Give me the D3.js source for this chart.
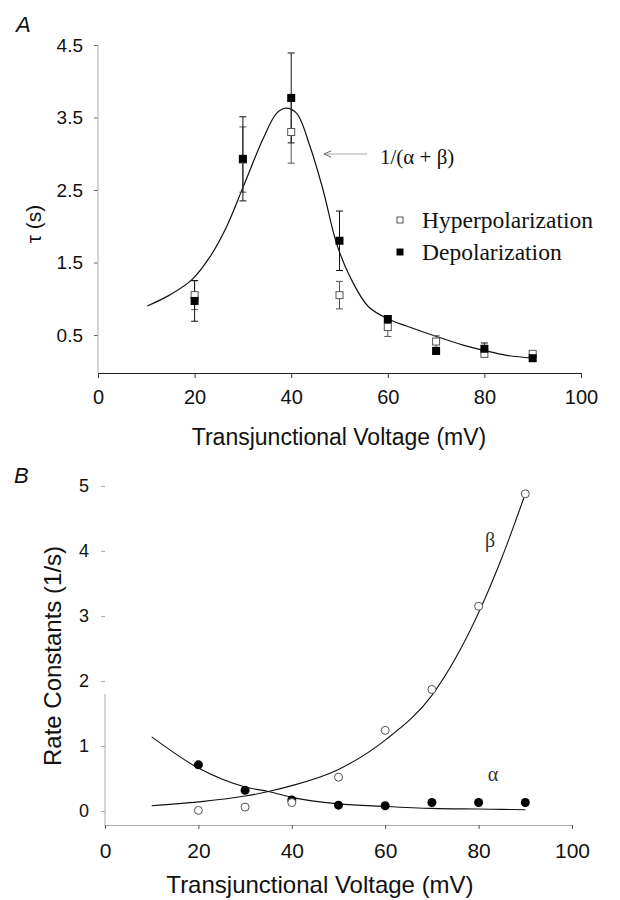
<!DOCTYPE html>
<html>
<head>
<meta charset="utf-8">
<script src="https://cdn.jsdelivr.net/npm/d3@7"></script>
<style>
  body { margin: 0; background: #fff; }
  svg { display: block; }
  .sans { font-family: "Liberation Sans", Arial, sans-serif; }
  .serif { font-family: "Liberation Serif", "Times New Roman", serif; }
</style>
</head>
<body>
<svg id="chart" width="620" height="900"></svg>
<script>
// ---------- data ----------
const voltages = [20, 30, 40, 50, 60, 70, 80, 90];
const hyperTau = [1.05, 2.92, 3.30, 1.05, 0.61, 0.41, 0.24, 0.24];
const hyperErr = [0.20, 0.45, 0.43, 0.19, 0.13, 0.08, 0.04, 0.03];
const depolTau = [0.97, 2.93, 3.77, 1.80, 0.72, 0.28, 0.31, 0.18];
const depolErr = [0.28, 0.58, 0.62, 0.41, 0.04, 0.03, 0.08, 0.03];

const tauFitV = [10.2, 14.8, 19.4, 23.2, 26.6, 30.1, 34.2, 37.0, 38.9, 41.1, 43.9, 46.6, 49.4, 52.2, 56.0, 60.5, 65.3, 70.1, 75.6, 79.8, 84.6, 90.1];
const tauFit  = [0.90, 1.05, 1.26, 1.58, 1.99, 2.55, 3.21, 3.56, 3.63, 3.56, 3.10, 2.50, 1.76, 1.30, 0.89, 0.71, 0.59, 0.48, 0.36, 0.29, 0.22, 0.18];

const alphaPts = [0.71, 0.32, 0.17, 0.09, 0.08, 0.13, 0.13, 0.13];
const betaPts  = [0.01, 0.06, 0.13, 0.52, 1.24, 1.87, 3.15, 4.88];

const fitV     = [10, 20, 30, 35, 40, 50, 60, 70, 80, 85, 90];
const alphaFit = [1.14, 0.66, 0.37, 0.30, 0.21, 0.11, 0.07, 0.04, 0.03, 0.025, 0.02];
const betaFit  = [0.08, 0.14, 0.23, 0.30, 0.39, 0.64, 1.09, 1.78, 3.05, 3.90, 4.88];

const xTicks = [0, 20, 40, 60, 80, 100];
const tauTicks = [0.5, 1.5, 2.5, 3.5, 4.5];
const rateTicks = [0, 1, 2, 3, 4, 5];

// ---------- setup ----------
const svg = d3.select("#chart");

// ===== Panel A =====
const xA = d3.scaleLinear().domain([0, 100]).range([98, 581]);
const yA = d3.scaleLinear().domain([0, 4.5]).range([371.25, 45]);
const gA = svg.append("g");

// y axis
const axLA = gA.append("g").attr("transform", "translate(98,0)")
  .call(d3.axisLeft(yA).tickValues(tauTicks).tickFormat(d3.format(".1f")).tickSize(4).tickPadding(11).tickSizeOuter(0));
axLA.select(".domain").remove();
axLA.selectAll(".tick line").attr("stroke", "#666");
axLA.selectAll(".tick text").attr("class", "sans").attr("font-size", 19).attr("fill", "#111");
gA.append("line").attr("x1", 98).attr("x2", 98).attr("y1", yA(4.5)).attr("y2", 373)
  .attr("stroke", "#aaa").attr("stroke-width", 1);

// x axis
const axBA = gA.append("g").attr("transform", "translate(0,373)")
  .call(d3.axisBottom(xA).tickValues(xTicks).tickSize(5).tickPadding(12).tickSizeOuter(0));
axBA.select(".domain").attr("stroke", "#222");
axBA.selectAll(".tick line").attr("stroke", "#333");
axBA.selectAll(".tick text").attr("class", "sans").attr("font-size", 20).attr("fill", "#111");

gA.append("text").attr("class", "sans").attr("x", 339).attr("y", 445)
  .attr("text-anchor", "middle").attr("font-size", 23).attr("fill", "#111")
  .text("Transjunctional Voltage (mV)");
gA.append("text").attr("class", "sans")
  .attr("transform", "translate(41,224) rotate(-90)")
  .attr("text-anchor", "middle").attr("font-size", 21).attr("fill", "#111")
  .text("τ (s)");
gA.append("text").attr("class", "sans").attr("x", 16).attr("y", 32)
  .attr("font-size", 22).attr("font-style", "italic").attr("fill", "#111").text("A");

// fit curve
gA.append("path")
  .datum(tauFitV.map((v, i) => [v, tauFit[i]]))
  .attr("fill", "none").attr("stroke", "#111").attr("stroke-width", 1.2)
  .attr("d", d3.line().x(d => xA(d[0])).y(d => yA(d[1])).curve(d3.curveCatmullRom.alpha(0.5)));

// error bars
function errBars(vals, errs, color) {
  const g = gA.append("g").attr("stroke", color).attr("stroke-width", 1);
  voltages.forEach((v, i) => {
    const x = xA(v), y1 = yA(vals[i] + errs[i]), y2 = yA(vals[i] - errs[i]);
    g.append("line").attr("x1", x).attr("x2", x).attr("y1", y1).attr("y2", y2);
    g.append("line").attr("x1", x - 3.5).attr("x2", x + 3.5).attr("y1", y1).attr("y2", y1);
    g.append("line").attr("x1", x - 3.5).attr("x2", x + 3.5).attr("y1", y2).attr("y2", y2);
  });
}
errBars(hyperTau, hyperErr, "#555");
errBars(depolTau, depolErr, "#111");

gA.append("g").selectAll("rect").data(voltages).join("rect")
  .attr("x", d => xA(d) - 3.5).attr("y", (d, i) => yA(hyperTau[i]) - 3.5)
  .attr("width", 7).attr("height", 7)
  .attr("fill", "#fff").attr("stroke", "#555").attr("stroke-width", 1);
gA.append("g").selectAll("rect").data(voltages).join("rect")
  .attr("x", d => xA(d) - 4).attr("y", (d, i) => yA(depolTau[i]) - 4)
  .attr("width", 8).attr("height", 8).attr("fill", "#000");

// legend
gA.append("rect").attr("x", 397).attr("y", 217).attr("width", 6).attr("height", 6)
  .attr("fill", "#fff").attr("stroke", "#555");
gA.append("rect").attr("x", 396.5).attr("y", 248.5).attr("width", 7).attr("height", 7).attr("fill", "#000");
gA.append("text").attr("class", "serif").attr("x", 422).attr("y", 228)
  .attr("font-size", 23.5).attr("fill", "#111").text("Hyperpolarization");
gA.append("text").attr("class", "serif").attr("x", 422).attr("y", 260)
  .attr("font-size", 23.5).attr("fill", "#111").text("Depolarization");

// annotation arrow
gA.append("line").attr("x1", 367).attr("x2", 325).attr("y1", 154).attr("y2", 154)
  .attr("stroke", "#aaa").attr("stroke-width", 1.2);
gA.append("path").attr("d", "M331,151 L324,154 L331,157")
  .attr("fill", "none").attr("stroke", "#666").attr("stroke-width", 1);
gA.append("text").attr("class", "serif").attr("x", 380).attr("y", 164)
  .attr("font-size", 21).attr("fill", "#111").text("1/(α + β)");

// ===== Panel B =====
const xB = d3.scaleLinear().domain([0, 100]).range([105, 572]);
const yB = d3.scaleLinear().domain([0, 5]).range([811, 486]);
const gB = svg.append("g");

const axLB = gB.append("g").attr("transform", "translate(105,0)")
  .call(d3.axisLeft(yB).tickValues(rateTicks).tickFormat(d3.format("d")).tickSize(4).tickPadding(12).tickSizeOuter(0));
axLB.select(".domain").remove();
axLB.selectAll(".tick line").attr("stroke", "#aaa");
axLB.selectAll(".tick text").attr("class", "sans").attr("font-size", 18).attr("fill", "#111");
gB.append("line").attr("x1", 105).attr("x2", 105).attr("y1", yB(1.8)).attr("y2", 825)
  .attr("stroke", "#aaa").attr("stroke-width", 1);

const axBB = gB.append("g").attr("transform", "translate(0,825)")
  .call(d3.axisBottom(xB).tickValues(xTicks).tickSize(4).tickPadding(14).tickSizeOuter(0));
axBB.select(".domain").attr("stroke", "#aaa");
axBB.selectAll(".tick line").attr("stroke", "#555");
axBB.selectAll(".tick text").attr("class", "sans").attr("font-size", 21).attr("fill", "#111");

gB.append("text").attr("class", "sans").attr("x", 320).attr("y", 893)
  .attr("text-anchor", "middle").attr("font-size", 24).attr("fill", "#111")
  .text("Transjunctional Voltage (mV)");
gB.append("text").attr("class", "sans")
  .attr("transform", "translate(61,656) rotate(-90)")
  .attr("text-anchor", "middle").attr("font-size", 24).attr("fill", "#111")
  .text("Rate Constants (1/s)");
gB.append("text").attr("class", "sans").attr("x", 14).attr("y", 483)
  .attr("font-size", 22).attr("font-style", "italic").attr("fill", "#111").text("B");

const lineB = d3.line().x(d => xB(d[0])).y(d => yB(d[1])).curve(d3.curveMonotoneX);
gB.append("path").datum(fitV.map((v, i) => [v, alphaFit[i]]))
  .attr("fill", "none").attr("stroke", "#111").attr("stroke-width", 1.1).attr("d", lineB);
gB.append("path").datum(fitV.map((v, i) => [v, betaFit[i]]))
  .attr("fill", "none").attr("stroke", "#111").attr("stroke-width", 1.1).attr("d", lineB);

gB.append("g").selectAll("circle").data(voltages).join("circle")
  .attr("cx", d => xB(d)).attr("cy", (d, i) => yB(alphaPts[i])).attr("r", 4.5).attr("fill", "#000");
gB.append("g").selectAll("circle").data(voltages).join("circle")
  .attr("cx", d => xB(d)).attr("cy", (d, i) => yB(betaPts[i])).attr("r", 4)
  .attr("fill", "#fff").attr("stroke", "#555").attr("stroke-width", 1);

gB.append("text").attr("class", "serif").attr("x", 490).attr("y", 547)
  .attr("text-anchor", "middle").attr("font-size", 20).attr("fill", "#333").text("β");
gB.append("text").attr("class", "serif").attr("x", 493).attr("y", 781)
  .attr("text-anchor", "middle").attr("font-size", 20).attr("fill", "#333").text("α");
</script>
</body>
</html>
